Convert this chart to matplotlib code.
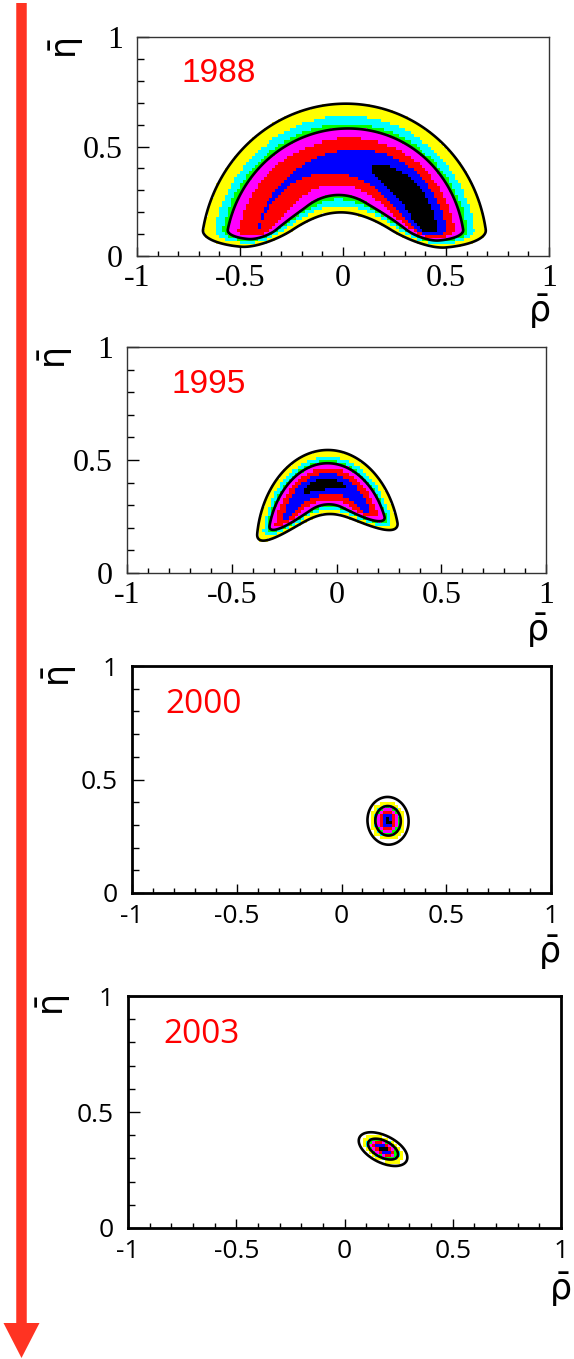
import numpy as np
import matplotlib
matplotlib.use('Agg')
import matplotlib.pyplot as plt
from matplotlib.colors import ListedColormap, BoundaryNorm
from matplotlib.patches import FancyArrow
from matplotlib.ticker import MultipleLocator

plt.rcParams['mathtext.fontset'] = 'dejavusans'

YEARS = ['1988', '1995', '2000', '2003']

# 1988 and 1995: banana shaped regions (ring, cut from below by a scoop)
RING_RHO = [0.0, -0.04]
RING_ETA = [0.0, 0.12]
RING_RADIUS = [0.43, 0.225]
RING_WIDTH = [0.13, 0.058]
RING_STRETCH = [1.0, 1.22]
SCOOP_ETA = [-0.45, -0.38]
SCOOP_RADIUS = [0.70, 0.67]
SCOOP_WIDTH = [0.05, 0.03]
FLOOR_ETA = [0.12, 0.0]
FLOOR_WIDTH = [0.04, 0.04]
PEAK_ANGLE = [36.0, 95.0]
PEAK_SPREAD = [35.0, 30.0]
PEAK_GAIN = [0.30, 0.26]

# 2000 and 2003: gaussian ellipses
ELL_RHO = [0.222, 0.178]
ELL_ETA = [0.318, 0.340]
ELL_SIG_A = [0.043, 0.049]
ELL_SIG_B = [0.040, 0.024]
ELL_ANGLE = [100.0, -24.0]

BANANA_LEVELS = [0.135, 0.30, 0.45, 0.55, 0.78, 1.0, 1.18]
BANANA_LINES = [0.135, 0.55]
ELLIPSE_LEVELS = [0.12, 0.27, 0.317, 0.45, 0.62, 0.80, 0.93]
ELLIPSE_LINES = [0.05, 0.317]
ZONE_COLORS = ['#ffff00', '#00ffff', '#00ff00', '#ff00ff', '#ff0000', '#0000ff', '#000000']

XTICKS = [-1, -0.5, 0, 0.5, 1]
XTICKLABELS = ['-1', '-0.5', '0', '0.5', '1']
YTICKS = [0, 0.5, 1]
YTICKLABELS = ['0', '0.5', '1']

# layout (figure fractions) and per panel styles
AX_BOXES = [[0.2387, 0.8116, 0.7178, 0.1611],
            [0.2213, 0.5784, 0.7300, 0.1663],
            [0.2300, 0.3429, 0.7300, 0.1670],
            [0.2230, 0.0964, 0.7544, 0.1707]]
YEAR_POS = [(0.109, 0.795), (0.107, 0.796), (0.079, 0.793), (0.081, 0.797)]
ETA_POS = [(-0.17, 0.95), (-0.17, 0.951), (-0.172, 0.956), (-0.171, 0.957)]
RHO_POS = [(0.976, -0.256), (0.978, -0.257), (0.995, -0.264), (0.998, -0.267)]


def banana(i, rho, eta):
    dx = rho - RING_RHO[i]
    dy = (eta - RING_ETA[i]) / RING_STRETCH[i]
    r = np.hypot(dx, dy)
    ring = np.exp(-0.5 * ((r - RING_RADIUS[i]) / RING_WIDTH[i]) ** 2)
    d = np.hypot(rho, eta - SCOOP_ETA[i])
    scoop = np.where(d < SCOOP_RADIUS[i],
                     np.exp(-0.5 * ((SCOOP_RADIUS[i] - d) / SCOOP_WIDTH[i]) ** 2), 1.0)
    floor = np.where(eta < FLOOR_ETA[i],
                     np.exp(-0.5 * ((FLOOR_ETA[i] - eta) / FLOOR_WIDTH[i]) ** 2), 1.0)
    theta = np.degrees(np.arctan2(dy, dx))
    peak = 1 + PEAK_GAIN[i] * np.exp(-0.5 * ((theta - PEAK_ANGLE[i]) / PEAK_SPREAD[i]) ** 2)
    return ring * scoop * floor * peak


def ellipse(j, rho, eta):
    a = np.radians(ELL_ANGLE[j])
    dx = rho - ELL_RHO[j]
    dy = eta - ELL_ETA[j]
    u = dx * np.cos(a) + dy * np.sin(a)
    v = -dx * np.sin(a) + dy * np.cos(a)
    return np.exp(-0.5 * ((u / ELL_SIG_A[j]) ** 2 + (v / ELL_SIG_B[j]) ** 2))


# coarse bins for the coloured histogram, fine grid for the contour lines
rho_edges = np.linspace(-1, 1, 141)
eta_edges = np.linspace(0, 1, 73)
rc, ec = np.meshgrid(0.5 * (rho_edges[1:] + rho_edges[:-1]), 0.5 * (eta_edges[1:] + eta_edges[:-1]))
rf, ef = np.meshgrid(np.linspace(-1, 1, 401), np.linspace(0, 1, 201))

cmap = ListedColormap(ZONE_COLORS)

fig = plt.figure(figsize=(5.74, 13.59), dpi=100)

for k, year in enumerate(YEARS):
    ax = fig.add_axes(AX_BOXES[k])
    serif = k < 2
    if serif:
        zc, zf = banana(k, rc, ec), banana(k, rf, ef)
        levels, lines = BANANA_LEVELS, BANANA_LINES
        tick_font, year_font, tick_size = 'Liberation Serif', 'Liberation Sans', 23
        frame_lw, frame_col = 1.0, '#333333'
    else:
        zc, zf = ellipse(k - 2, rc, ec), ellipse(k - 2, rf, ef)
        levels, lines = ELLIPSE_LEVELS, ELLIPSE_LINES
        tick_font, year_font, tick_size = 'Open Sans', 'Open Sans', 19
        frame_lw, frame_col = 2.0, 'black'

    norm = BoundaryNorm(levels + [1e9], cmap.N)
    ax.pcolormesh(rho_edges, eta_edges, np.ma.masked_less(zc, levels[0]),
                  cmap=cmap, norm=norm, shading='flat', edgecolors='none')
    ax.contour(rf, ef, zf, levels=lines, colors='black', linewidths=1.9)

    ax.set_xlim(-1, 1)
    ax.set_ylim(0, 1)
    ax.set_xticks(XTICKS)
    ax.set_xticklabels(XTICKLABELS, family=tick_font, fontsize=tick_size)
    ax.set_yticks(YTICKS)
    ax.set_yticklabels(YTICKLABELS, family=tick_font, fontsize=tick_size)
    ax.xaxis.set_minor_locator(MultipleLocator(0.1))
    ax.yaxis.set_minor_locator(MultipleLocator(0.1))
    ax.tick_params(which='both', direction='in', top=False, right=False, width=1.0, colors='black')
    ax.tick_params(axis='x', which='major', length=6.5, pad=6 if serif else 8)
    ax.tick_params(axis='x', which='minor', length=3.6)
    ax.tick_params(axis='y', which='major', length=8.6, pad=10)
    ax.tick_params(axis='y', which='minor', length=5.0)
    for side in ['top', 'right', 'bottom', 'left']:
        ax.spines[side].set_linewidth(frame_lw)
        ax.spines[side].set_color(frame_col)

    ax.text(YEAR_POS[k][0], YEAR_POS[k][1], year, transform=ax.transAxes, color='red',
            fontsize=24, family=year_font, ha='left', va='baseline')
    ax.text(ETA_POS[k][0], ETA_POS[k][1], r'$\bar{\mathrm{\eta}}$', transform=ax.transAxes,
            fontsize=25, rotation=90, ha='center', va='center')
    ax.text(RHO_POS[k][0], RHO_POS[k][1], r'$\bar{\mathrm{\rho}}$', transform=ax.transAxes,
            fontsize=25, ha='center', va='center')

# red arrow down the left side, drawn in pixel units
ax0 = fig.add_axes([0, 0, 1, 1])
ax0.set_xlim(0, 574)
ax0.set_ylim(1359, 0)
ax0.axis('off')
ax0.add_patch(FancyArrow(21.5, 3, 0, 1355, width=10.5, head_width=36, head_length=35,
                         length_includes_head=True, color='#ff3322', lw=0))

fig.savefig('out.png', dpi=100)
